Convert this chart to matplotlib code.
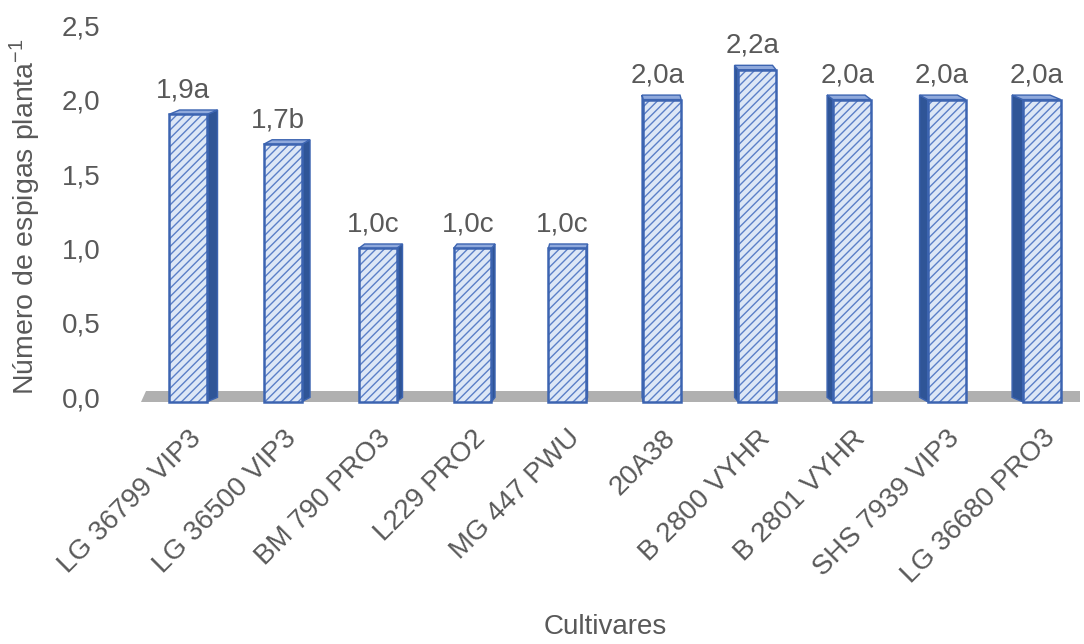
import matplotlib.pyplot as plt
from matplotlib.patches import Polygon

plt.rcParams['font.family'] = ['Liberation Sans', 'DejaVu Sans']
plt.rcParams['mathtext.default'] = 'regular'
plt.rcParams['hatch.linewidth'] = 1.0

cultivares = ['LG 36799 VIP3', 'LG 36500 VIP3', 'BM 790 PRO3', 'L229 PRO2',
              'MG 447 PWU', '20A38', 'B 2800 VYHR', 'B 2801 VYHR',
              'SHS 7939 VIP3', 'LG 36680 PRO3']
espigas = [1.9, 1.7, 1.0, 1.0, 1.0, 2.0, 2.2, 2.0, 2.0, 2.0]
letras = ['a', 'b', 'c', 'c', 'c', 'a', 'a', 'a', 'a', 'a']
yticks = [0.0, 0.5, 1.0, 1.5, 2.0, 2.5]

txt = '#595959'
face = '#dde7f6'
hatch_col = '#5b7fc7'
edge = '#3c64b1'
side = '#2f5597'
top_col = '#8fa9dc'

fig = plt.figure(figsize=(10.84, 6.44), dpi=100)
ax = fig.add_axes([0.130, 0.383, 0.866, 0.578])

n = len(cultivares)
x0, x1 = -0.495, n - 0.6
w = 0.40
mid = (n - 1) / 2
dy = 0.03
base = -0.03

# grey floor under the bars
floor = Polygon([(x0, base), (x1, base), (x1, 0.045), (x0 + 0.05, 0.045)],
                closed=True, facecolor='#b0b0b0', edgecolor='none', zorder=1,
                clip_on=False)
ax.add_patch(floor)

for i, (h, let) in enumerate(zip(espigas, letras)):
    xl, xr = i - w / 2, i + w / 2
    dx = -0.025 * (i - mid)
    # side face, turned towards the middle of the chart
    sx = xr if dx > 0 else xl
    ax.add_patch(Polygon([(sx, base), (sx + dx, base + dy), (sx + dx, h + dy), (sx, h)],
                         closed=True, facecolor=side, edgecolor=edge, lw=1.0, zorder=2,
                         clip_on=False))
    # top face
    ax.add_patch(Polygon([(xl, h), (xr, h), (xr + dx, h + dy), (xl + dx, h + dy)],
                         closed=True, facecolor=top_col, edgecolor=edge, lw=1.0, zorder=3))
    # hatched front face
    ax.bar(i, h - base, bottom=base, width=w, color=face, edgecolor=hatch_col,
           hatch='////', lw=0, zorder=3, clip_on=False)
    ax.bar(i, h - base, bottom=base, width=w, fill=False, edgecolor=edge,
           lw=1.8, zorder=4, clip_on=False)
    label = f'{h:.1f}'.replace('.', ',') + let
    ax.text(i - 0.05, h + 0.075, label, ha='center', va='bottom',
            fontsize=20, color=txt)

ax.set_xlim(x0, x1)
ax.set_ylim(0, 2.5)
ax.set_yticks(yticks)
ax.set_yticklabels([f'{v:.1f}'.replace('.', ',') for v in yticks], fontsize=20, color=txt)
ax.set_xticks(range(n))
ax.set_xticklabels(cultivares, rotation=45, ha='right', rotation_mode='anchor',
                   fontsize=20, color=txt)
ax.tick_params(axis='both', length=0)
ax.tick_params(axis='x', pad=20)
ax.tick_params(axis='y', pad=29)
for s in ax.spines.values():
    s.set_visible(False)

ax.set_ylabel('Número de espigas planta$^{-1}$', fontsize=20.5, color=txt)
ax.yaxis.set_label_coords(-0.104, 0.485)
fig.text(0.558, 0.026, 'Cultivares', ha='center', va='center', fontsize=20, color=txt)

fig.savefig('out.png', dpi=100)
